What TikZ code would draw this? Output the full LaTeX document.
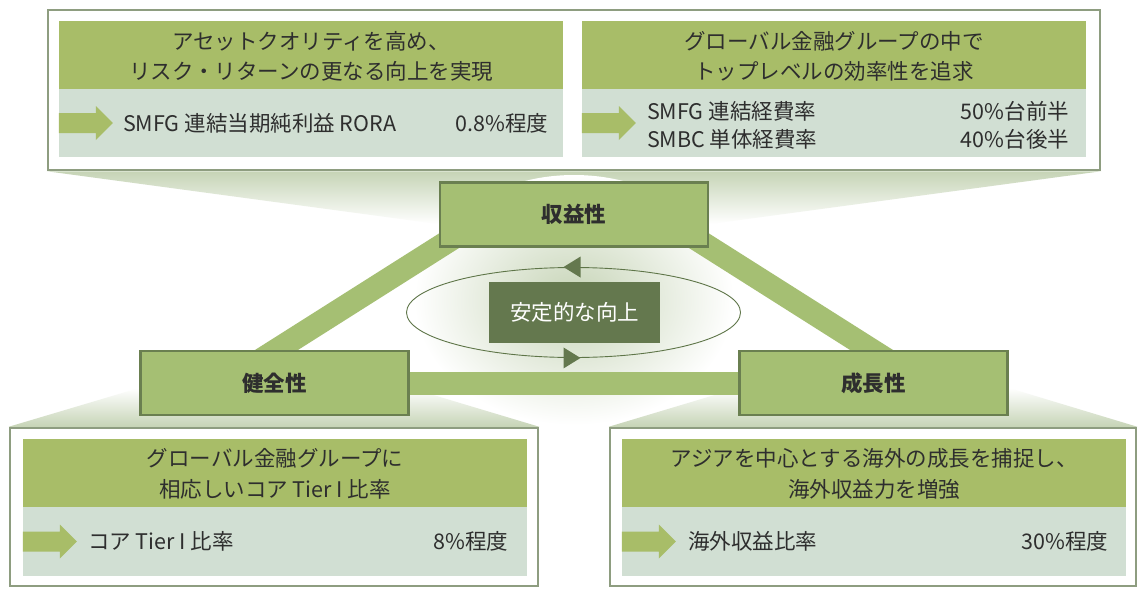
\documentclass[tikz,border=0pt]{standalone}
\usepackage{fontspec}
\setmainfont{Noto Sans CJK JP}
\usetikzlibrary{shapes.geometric,fit,calc}
\definecolor{hdrgreen}{HTML}{A8BD68}
\definecolor{panelgray}{HTML}{D1DFD3}
\definecolor{boxgreen}{HTML}{A5BF73}
\definecolor{boxborder}{HTML}{6A7F50}
\definecolor{outerborder}{HTML}{8E9D80}
\definecolor{darkgreen}{HTML}{64784E}
\definecolor{ellline}{HTML}{5E7548}
\definecolor{txtgray}{HTML}{2E2E2E}
\definecolor{glow}{HTML}{C6D4B6}
\pgfdeclarelayer{back}
\pgfdeclarelayer{mid}
\pgfsetlayers{back,mid,main}
\tikzset{
  outerbox/.style={draw=outerborder, line width=2.5pt, fill=white, inner sep=0pt},
  hdrbox/.style={fill=hdrgreen, inner sep=0pt},
  hdrtxt/.style={inner sep=0pt, align=center, text=txtgray, font=\fontsize{21.5}{30.5}\selectfont},
  lowbox/.style={fill=panelgray, inner sep=0pt},
  lowtxt/.style={inner sep=0pt, text=txtgray, font=\fontsize{21.5}{28}\selectfont},
  mainbox/.style={draw=boxborder, line width=2.5pt, fill=boxgreen, minimum width=268pt, minimum height=64pt, inner sep=0pt, text=txtgray, font=\fontsize{21.5}{25}\selectfont\bfseries},
  band/.style={draw=boxgreen, line width=23pt},
  parrow/.pic={\fill[hdrgreen] (0,-10) -- (37,-10) -- (37,-17) -- (54,0) -- (37,17) -- (37,10) -- (0,10) -- cycle;},
}
\begin{document}
\begin{tikzpicture}[x=1pt,y=-1pt]
\useasboundingbox (0,0) rectangle (1139,594);

% outer boxes
\node[outerbox, fit={(48,10) (1100,170)}] (topbox) {};
\node[outerbox, fit={(10,428) (538,586)}] (blbox) {};
\node[outerbox, fit={(610,428) (1136,586)}] (brbox) {};

% top-left panel
\node[hdrbox, fit={(59,21) (563,89)}] (tlh) {};
\node[hdrtxt] (tlht) at ($(tlh.center)+(0,1.5)$) {アセットクオリティを高め、\\リスク・リターンの更なる向上を実現};
\node[lowbox, fit={(59,89) (563,157)}] (tll) {};
\pic at (tll.west) {parrow};
\node[lowtxt, anchor=west] (tlk) at ($(tll.west)+(64,0)$) {SMFG 連結当期純利益 RORA};
\node[lowtxt, anchor=east] (tlv) at ($(tll.east)+(-15,0)$) {0.8\%程度};

% top-right panel
\node[hdrbox, fit={(582,21) (1086,89)}] (trh) {};
\node[hdrtxt] (trht) at ($(trh.center)+(0,1.5)$) {グローバル金融グループの中で\\トップレベルの効率性を追求};
\node[lowbox, fit={(582,89) (1086,157)}] (trl) {};
\pic at (trl.west) {parrow};
\node[lowtxt, anchor=west, align=left] (trk) at ($(trl.west)+(65,2)$) {SMFG 連結経費率\\SMBC 単体経費率};
\node[lowtxt, anchor=east, align=left] (trv) at ($(trl.east)+(-17,2)$) {50\%台前半\\40\%台後半};

% bottom-left panel
\node[hdrbox, fit={(23,439) (527,507)}] (blh) {};
\node[hdrtxt] (blht) at ($(blh.center)+(0,1)$) {グローバル金融グループに\\相応しいコア Tier I 比率};
\node[lowbox, fit={(23,507) (527,576)}] (bll) {};
\pic at (bll.west) {parrow};
\node[lowtxt, anchor=west] (blk) at ($(bll.west)+(65,0)$) {コア Tier I 比率};
\node[lowtxt, anchor=east] (blv) at ($(bll.east)+(-19,0)$) {8\%程度};

% bottom-right panel
\node[hdrbox, fit={(622,439) (1126,507)}] (brh) {};
\node[hdrtxt] (brht) at ($(brh.center)+(0,1)$) {アジアを中心とする海外の成長を捕捉し、\\海外収益力を増強};
\node[lowbox, fit={(622,507) (1126,576)}] (brl) {};
\pic at (brl.west) {parrow};
\node[lowtxt, anchor=west] (brk) at ($(brl.west)+(66,0)$) {海外収益比率};
\node[lowtxt, anchor=east] (brv) at ($(brl.east)+(-18,0)$) {30\%程度};

% main boxes
\node[mainbox] (syueki) at (574,214.5) {収益性};
\node[mainbox] (kenzen) at (274.5,383) {健全性};
\node[mainbox] (seicho) at (873.5,383) {成長性};

% centre cycle
\node[draw=ellline, line width=0.9pt, ellipse, minimum width=334pt, minimum height=90pt, inner sep=0pt] (cyc) at (573.5,312.5) {};
\fill[darkgreen] ($(cyc.north)+(-10,0)$) -- ++(17,-10.5) -- ++(0,21) -- cycle;
\fill[darkgreen] ($(cyc.south)+(7,0)$) -- ++(-17,-10.5) -- ++(0,21) -- cycle;
\node[fill=darkgreen, minimum width=171pt, minimum height=61pt, inner sep=0pt, text=white, font=\fontsize{21.5}{25}\selectfont] (stable) at (574.5,312.5) {安定的な向上};

% bands
\begin{pgfonlayer}{mid}
\draw[band] (kenzen) -- (seicho);
\draw[band] ($(kenzen.north)+(-24.5,17)$) -- ($(syueki.south west)+(30,-19.5)$);
\draw[band] ($(seicho.north)+(24.5,17)$) -- ($(syueki.south east)+(-30,-19.5)$);
\end{pgfonlayer}

% background shading
\begin{pgfonlayer}{back}
\fill[white] (0,0) rectangle (1139,594);
\shade[top color=glow, bottom color=white] (topbox.south west) -- (topbox.south east) -- (710,224) -- (438,224) -- cycle;
\shade[top color=white, bottom color=glow] (blbox.north west) -- (blbox.north east) -- (410,388) -- (139,388) -- cycle;
\shade[top color=white, bottom color=glow] (brbox.north west) -- (brbox.north east) -- (1009,388) -- (738,388) -- cycle;
\shade[inner color=glow, outer color=white] (574,300) ellipse [x radius=160pt, y radius=125pt];
\end{pgfonlayer}
\end{tikzpicture}
\end{document}
